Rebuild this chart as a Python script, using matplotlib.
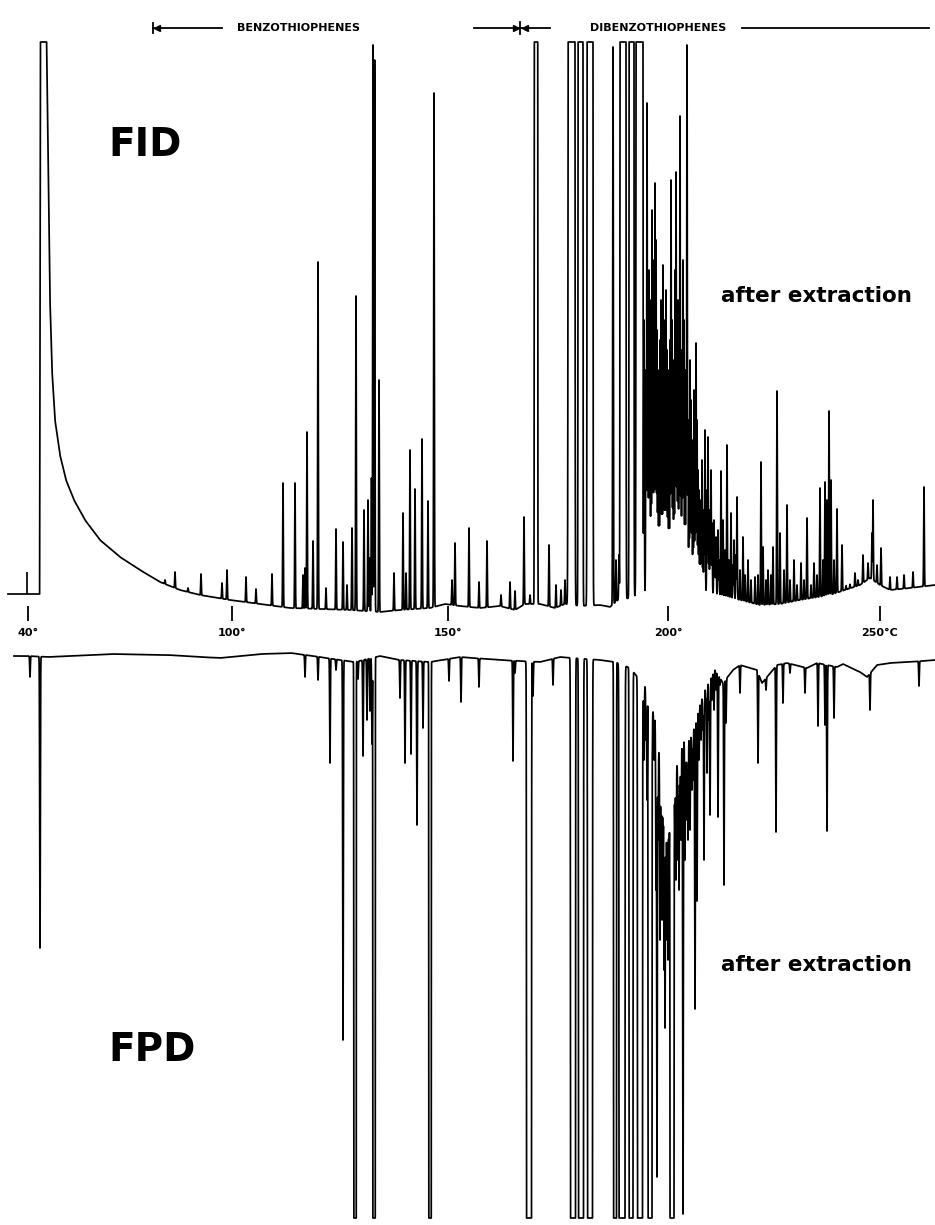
import numpy as np
import matplotlib
matplotlib.use("Agg")
import matplotlib.pyplot as plt

W_PX, H_PX, DPI = 935, 1225, 100

# ---------------- data (retention axis in chart units) ----------------
temp_tick_pos = [28, 232, 448, 668, 880]
temp_tick_labels = ["40°", "100°", "150°", "200°", "250°C"]

FULL_SCALE = 578          # recorder full-scale deflection (both detectors)

# FID baseline (incl. solvent front)
fid_base_t = [8, 39.6, 40.4, 46.6, 48, 50, 52, 55, 60, 66, 74, 85, 100, 120, 140, 160, 180,
              200, 230, 260, 290, 320, 350, 380, 400, 430, 445, 460, 480, 500, 515, 525,
              540, 555, 565, 580, 600, 610, 618, 630, 640, 660, 680, 700, 720, 740, 760,
              780, 800, 830, 860, 870, 880, 890, 910, 935]
fid_base_r = [26, 26, 578, 578, 470, 320, 250, 200, 165, 140, 120, 100, 80, 63, 50, 38, 30,
              25, 20, 16, 12, 11, 10, 8, 10, 12, 16, 14, 12, 14, 10, 16,
              16, 12, 16, 14, 15, 13, 20, 22, 26, 32, 35, 30, 25, 20, 15,
              16, 20, 25, 35, 42, 35, 30, 32, 35]

# FID peak apexes
fid_peak_t = [165, 175, 188, 201, 222, 227, 246, 256, 272, 283, 295, 303, 305, 307, 313, 318,
              326, 336, 343, 347, 352, 356, 364, 368, 369.5, 371.5, 373, 374.6, 379, 394, 403,
              406, 410, 415, 422, 428, 434, 452, 455, 469, 479, 487, 501, 510, 515, 524, 530,
              549, 556, 561, 565, 613, 616, 619,
              641, 644, 646, 647, 648, 649, 650, 651, 652, 653, 654, 655, 656, 657, 658, 659,
              660, 661, 662, 663, 664, 665, 666, 667, 668, 669, 670, 671, 672, 673, 674, 675,
              676, 677, 678, 679, 680, 681, 682, 683, 684, 685, 686, 687, 688, 689, 690, 691,
              692, 693, 694, 695, 696, 697, 698, 699, 700, 701, 702, 703, 704, 705, 707, 708,
              709, 710, 711, 712, 714, 715, 716, 718, 719, 721, 723, 725, 727, 729, 731, 733,
              734, 736, 737, 740, 743, 745, 748, 751, 755, 758, 761, 763, 766, 768, 771, 773,
              777, 780, 784, 787, 790, 794, 797, 801, 804, 807, 811, 814, 817, 820, 823, 825,
              827, 829, 831, 834, 837, 842, 846, 850, 855, 858, 863, 868, 872, 873, 877, 881,
              890, 897, 904, 913, 924]
fid_peak_r = [24, 48, 31, 46, 37, 50, 43, 31, 46, 137, 137, 45, 52, 188, 79, 358,
              32, 91, 78, 35, 92, 324, 110, 120, 62, 142, 575, 560, 240, 47, 107,
              47, 170, 131, 181, 119, 527, 40, 77, 92, 38, 79, 25, 38, 29, 103, 25,
              75, 35, 30, 40, 573, 60, 65,
              404, 300, 250, 517, 280, 350, 320, 230, 410, 360, 300, 437, 380, 290, 250, 200,
              280, 320, 230, 355, 300, 240, 330, 270, 250, 190, 280, 440, 300, 260, 220, 350,
              448, 300, 320, 240, 504, 230, 270, 360, 300, 200, 250, 575, 200, 140, 260, 220,
              180, 120, 230, 160, 277, 200, 150, 130, 100, 120, 160, 80, 110, 190, 130, 183,
              90, 110, 150, 97, 100, 70, 83, 90, 60, 149, 100, 70, 175, 60, 107, 55,
              80, 65, 123, 50, 83, 45, 60, 40, 43, 45, 158, 73, 40, 50, 45, 73,
              229, 87, 50, 115, 40, 60, 35, 57, 40, 102, 35, 57, 45, 132, 60, 138,
              120, 209, 140, 60, 111, 75, 30, 35, 47, 40, 65, 57, 87, 120, 55, 72,
              43, 43, 45, 48, 133]

# FID off-scale peaks (flat tops): position, width at full scale
fid_off_t = [536, 571.5, 580.5, 590, 623, 631.5, 639.5]
fid_off_w = [3.5, 7, 5, 6, 6, 5, 7]
fid_inject_t = 27

# FPD baseline (downward deflection)
fpd_base_t = [14, 28, 48, 112, 168, 200, 220, 261, 291, 313, 340, 355, 380, 400, 430, 460,
              500, 540, 560, 600, 615, 630, 640, 648, 655, 660, 664, 668, 672, 678, 684,
              690, 695, 700, 705, 710, 715, 723, 733, 740, 757, 762, 777, 787, 807, 817,
              837, 843, 860, 867, 877, 890, 923, 935]
fpd_base_r = [16, 16, 17, 14, 15, 17, 18, 14, 13, 16, 20, 22, 16, 20, 22, 17,
              20, 22, 17, 20, 22, 28, 40, 50, 80, 120, 160, 175, 150, 120, 100,
              100, 85, 65, 50, 40, 30, 43, 30, 25, 30, 43, 25, 23, 28, 23,
              27, 24, 32, 37, 25, 23, 21, 20]

fpd_peak_t = [30, 40, 305, 318, 330, 336, 343, 358, 363, 367, 370, 372, 400, 405, 411, 417,
              423, 449, 461, 479, 513, 515, 533, 553,
              643, 644, 646, 647, 652, 654, 656, 658, 660, 661, 662, 663, 664, 666, 667, 668,
              669, 670, 674, 675, 676, 678, 679, 680, 681, 685, 686, 687, 688, 690, 692, 693,
              657, 665, 683, 695, 697, 699, 701, 703, 704, 706, 707, 709, 710, 712, 714, 716,
              718, 720, 724, 726, 740, 758, 766, 776, 783, 790, 805, 818, 825, 827, 834, 870,
              919]
fpd_peak_r = [37, 308, 37, 40, 123, 30, 400, 39, 116, 80, 71, 104, 58, 123, 114, 185,
              88, 41, 62, 47, 121, 33, 56, 45,
              80, 120, 100, 160, 140, 120, 250, 200, 300, 240, 280, 220, 330, 300, 260, 320,
              230, 280, 260, 200, 240, 220, 250, 180, 200, 220, 160, 180, 200, 190, 150, 140,
              537, 388, 574, 369, 261, 120, 100, 90, 220, 70, 133, 80, 175, 60, 70, 50,
              177, 45, 245, 83, 53, 123, 50, 192, 63, 33, 53, 86, 85, 191, 78, 70,
              46]

fpd_off_t = [355, 374, 430, 529, 573, 581, 590, 615, 622, 631, 640, 650, 672]
fpd_off_w = [2.5, 2.5, 2.5, 5, 5, 5, 5, 3, 6, 4, 5, 4, 4]

# ---------------- helpers ----------------
t = np.linspace(0, 935, 18701)
PEAK_SIGMA = 0.32
OFFSCALE_GAIN = 1e4


def build_trace(bt, br, pt, pr, ot, ow, start):
    """Baseline plus peaks; overlapping peaks are combined by their envelope."""
    base = np.interp(t, bt, br)
    env = np.zeros_like(t)
    for x0, top in zip(pt, pr):
        amp = max(top - np.interp(x0, bt, br), 4)
        np.maximum(env, amp * np.exp(-0.5 * ((t - x0) / PEAK_SIGMA) ** 2), out=env)
    for x0, w in zip(ot, ow):
        s = w / 8.6
        np.maximum(env, FULL_SCALE * OFFSCALE_GAIN * np.exp(-0.5 * ((t - x0) / s) ** 2),
                   out=env)
    sig = np.minimum(base + env, FULL_SCALE)
    m = t >= start
    return t[m], sig[m]


fig = plt.figure(figsize=(W_PX / DPI, H_PX / DPI), dpi=DPI)
fig.patch.set_facecolor("white")

# FID axes: rows 0..621 px
fid_ax = fig.add_axes([0, 1 - 621 / H_PX, 1, 621 / H_PX])
fid_ax.set_xlim(0, 935)
fid_ax.set_ylim(-1, 620)
for s in fid_ax.spines.values():
    s.set_visible(False)
fid_ax.set_yticks([])
fid_ax.set_xticks(temp_tick_pos, temp_tick_labels)
fid_ax.tick_params(axis="x", direction="in", length=11, width=1.3, pad=5,
                   labelsize=8, colors="black")
for lab in fid_ax.get_xticklabels():
    lab.set_fontfamily("DejaVu Sans")
    lab.set_fontweight("bold")

tx, ty = build_trace(fid_base_t, fid_base_r, fid_peak_t, fid_peak_r,
                     fid_off_t, fid_off_w, fid_base_t[0])
fid_ax.plot(tx, ty, color="black", lw=1.25, solid_joinstyle="round")
b_inj = np.interp(fid_inject_t, fid_base_t, fid_base_r)
fid_ax.vlines(fid_inject_t, b_inj, b_inj + 22, color="black", lw=1.25)

# FPD axes: rows 640..1225 px, deflection downward
fpd_ax = fig.add_axes([0, 0, 1, 585 / H_PX])
fpd_ax.set_xlim(0, 935)
fpd_ax.set_ylim(585, 0)
fpd_ax.axis("off")
px, py = build_trace(fpd_base_t, fpd_base_r, fpd_peak_t, fpd_peak_r,
                     fpd_off_t, fpd_off_w, fpd_base_t[0])
fpd_ax.plot(px, py, color="black", lw=1.25, solid_joinstyle="round")

# ---------------- annotation overlay (pixel layout) ----------------
ov = fig.add_axes([0, 0, 1, 1], zorder=5)
ov.set_xlim(0, W_PX)
ov.set_ylim(H_PX, 0)
ov.axis("off")
ov.patch.set_alpha(0)

hy = 28
kw = dict(color="black", lw=1.3)
ov.plot([153, 222], [hy, hy], **kw)
ov.plot([153, 153], [hy - 5, hy + 5], **kw)
ov.plot([157], [hy], marker="<", ms=5, color="black")
ov.text(237, hy, "BENZOTHIOPHENES", fontsize=8, fontweight="bold",
        family="DejaVu Sans", va="center", ha="left")
ov.plot([474, 550], [hy, hy], **kw)
ov.plot([520, 520], [hy - 6, hy + 6], **kw)
ov.plot([516], [hy], marker=">", ms=5, color="black")
ov.plot([525], [hy], marker="<", ms=5, color="black")
ov.text(590, hy, "DIBENZOTHIOPHENES", fontsize=8, fontweight="bold",
        family="DejaVu Sans", va="center", ha="left")
ov.plot([742, 929], [hy, hy], **kw)

ov.text(108, 145, "FID", fontsize=28, fontweight="bold", family="DejaVu Sans",
        va="center", ha="left")
ov.text(108, 1050, "FPD", fontsize=28, fontweight="bold", family="DejaVu Sans",
        va="center", ha="left")
ov.text(721, 296, "after extraction", fontsize=15.5, fontweight="bold",
        family="DejaVu Sans", va="center", ha="left")
ov.text(721, 965, "after extraction", fontsize=15.5, fontweight="bold",
        family="DejaVu Sans", va="center", ha="left")

fig.savefig("out.png", dpi=DPI, facecolor="white")
